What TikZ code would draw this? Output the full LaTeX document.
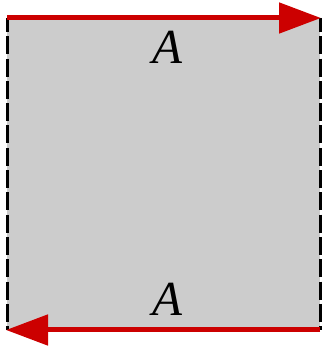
\documentclass[tikz,border=0pt]{standalone}
\usepackage{fontspec}
\setmainfont{Liberation Serif}
\usetikzlibrary{arrows.meta}
\definecolor{sqgray}{HTML}{CCCCCC}
\definecolor{edgered}{HTML}{CC0000}
\tikzset{
  x=1pt,y=1pt,
  redarrow/.style={draw=edgered,line width=5pt,-{Triangle[length=42pt,width=30pt]},shorten >=-1pt},
  gluedash/.style={draw=black,line width=3pt,dash pattern=on 18pt off 4.3pt,dash phase=4pt},
  labelA/.style={inner sep=0pt,font=\fontsize{49}{54}\selectfont\itshape}
}
\begin{document}
\begin{tikzpicture}
\useasboundingbox (0,0) rectangle (322,351);
\coordinate (bl) at (7,21);
\coordinate (br) at (320,21);
\coordinate (tl) at (7,333);
\coordinate (tr) at (320,333);
\fill[sqgray] (bl) rectangle (tr);
\draw[gluedash] (tl) -- (bl);
\draw[gluedash] (tr) -- (br);
\draw[redarrow] (tl) -- (tr);
\draw[redarrow] (br) -- (bl);
\node[labelA] (atop) at (167,304) {A};
\node[labelA] (abot) at (167,52) {A};
\end{tikzpicture}
\end{document}
